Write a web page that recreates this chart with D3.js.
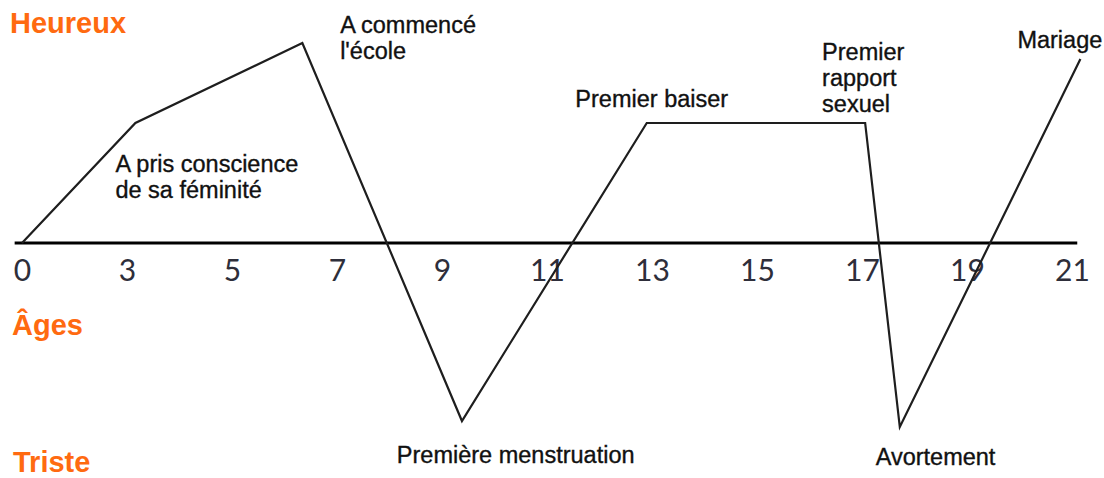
<!DOCTYPE html>
<meta charset="utf-8">
<style>
  body {
      margin: 0;
      padding: 0;
      background: #fff;
  }
  .orange {
      font-family: 'Liberation Sans', Arial, sans-serif;
      font-weight: bold;
      fill: #ff6a10;
  }
  .note {
      font-family: 'Liberation Sans', Arial, sans-serif;
      font-size: 23.5px;
      fill: #111;
      stroke: #111;
      stroke-width: 0.35px;
  }
  .tick text {
      font-family: Lato, sans-serif;
      font-size: 30px;
      fill: #2e2e3a;
  }
</style>
<body>
<div id="chart"></div>
<script src="https://cdn.jsdelivr.net/npm/d3@7"></script>
<script>
// ages shown on the axis (evenly spaced, not proportional)
var ages = [0, 3, 5, 7, 9, 11, 13, 15, 17, 19, 21];

// the curve: position along the axis (in tick steps) and mood (-10 triste .. 10 heureux)
var curvePos  = [0, 1.08, 2.67, 4.19, 5.95, 8.03, 8.36, 10.08];
var curveMood = [0, 6, 10, -8.9, 6, 6, -9.2, 9.2];

// event labels: lines of text, position (tick steps) and mood where they sit
var eventLines = [
    ["A pris conscience", "de sa féminité"],
    ["A commencé", "l'école"],
    ["Première menstruation"],
    ["Premier baiser"],
    ["Premier", "rapport", "sexuel"],
    ["Avortement"],
    ["Mariage"]
];
var eventPos  = [0.89, 3.03, 3.57, 5.27, 7.62, 8.13, 9.48];
var eventMood = [3.55, 10.5, -11, 6.8, 9.15, -11.1, 9.75];

var width = 1104,
    height = 478;

var x = d3.scaleLinear()
    .domain([0, ages.length - 1])
    .range([22, 1072]);

var y = d3.scaleLinear()
    .domain([-10, 10])
    .range([443, 43]);

var svg = d3.select("#chart").append("svg")
    .attr("width", width)
    .attr("height", height);

// axis line + tick labels
svg.append("line")
    .attr("x1", x(-0.07))
    .attr("x2", x(10.05))
    .attr("y1", y(0))
    .attr("y2", y(0))
    .attr("stroke", "#000")
    .attr("stroke-width", 3);

var axis = svg.append("g")
    .attr("transform", "translate(0," + y(0) + ")")
    .call(d3.axisBottom(x)
        .tickValues(d3.range(ages.length))
        .tickFormat(function(i) { return ages[i]; })
        .tickSize(0)
        .tickPadding(16));
axis.select(".domain").remove();
axis.selectAll(".tick text").attr("dy", "0.72em");

// the mood curve
var pts = curvePos.map(function(p, i) { return [p, curveMood[i]]; });

svg.append("path")
    .datum(pts)
    .attr("fill", "none")
    .attr("stroke", "#1e1e1e")
    .attr("stroke-width", 2.2)
    .attr("stroke-linejoin", "miter")
    .attr("d", d3.line()
        .x(function(d) { return x(d[0]); })
        .y(function(d) { return y(d[1]); }));

// event annotations
eventLines.forEach(function(lines, i) {
    var t = svg.append("text")
        .attr("class", "note")
        .attr("x", x(eventPos[i]))
        .attr("y", y(eventMood[i]));
    lines.forEach(function(s, k) {
        t.append("tspan")
            .attr("x", x(eventPos[i]))
            .attr("dy", k === 0 ? 0 : 26)
            .text(s);
    });
});

// orange side labels
svg.append("text").attr("class", "orange")
    .attr("x", 10).attr("y", 33)
    .style("font-size", "29px")
    .text("Heureux");
svg.append("text").attr("class", "orange")
    .attr("x", 12).attr("y", 335)
    .style("font-size", "29px")
    .text("Âges");
svg.append("text").attr("class", "orange")
    .attr("x", 13).attr("y", 472)
    .style("font-size", "29px")
    .text("Triste");
</script>
</body>
